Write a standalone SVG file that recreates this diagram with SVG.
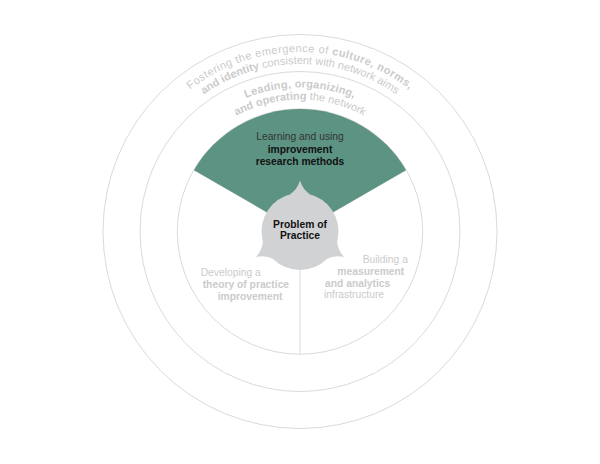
<svg xmlns="http://www.w3.org/2000/svg" width="600" height="464" viewBox="0 0 600 464">
<style>
.ring{fill:none;stroke:#dadada;stroke-width:1}
.t{font-family:"Liberation Sans",Arial,Helvetica,sans-serif;font-size:10.3px}
.rt{font-family:"Liberation Sans",Arial,Helvetica,sans-serif;font-size:11px;fill:#cbcbcb}
.b{font-weight:bold}
.pale{fill:#cbcbcb}
.div{stroke:#dcdcdc;stroke-width:1}
</style>
<defs>
<path id="a1" d="M131.32,170.11 A179.5,179.5 0 0 1 468.68,170.11"/>
<path id="a2" d="M142.60,174.21 A167.5,167.5 0 0 1 457.40,174.21"/>
<path id="a3" d="M164.68,182.25 A144,144 0 0 1 435.32,182.25"/>
<path id="a4" d="M175.96,186.36 A132,132 0 0 1 424.04,186.36"/>
<path id="pt" d="M289.6,194.6 Q297,190 300,180.5 Q303,190 310.4,194.6 Z"/>
</defs>
<rect width="600" height="464" fill="#ffffff"/>
<g id="ring-culture">
<circle class="ring" cx="300" cy="231.5" r="197"/>
<text class="rt" letter-spacing="0.45"><textPath href="#a1" startOffset="50%" text-anchor="middle">Fostering the emergence of <tspan class="b">culture, norms,</tspan></textPath></text>
<text class="rt"><textPath href="#a2" startOffset="50%" text-anchor="middle"><tspan class="b">and identity</tspan> consistent with network aims</textPath></text>
</g>
<g id="ring-leading">
<circle class="ring" cx="300" cy="231.5" r="160"/>
<text class="rt" letter-spacing="0.2"><textPath href="#a3" startOffset="50%" text-anchor="middle"><tspan class="b">Leading, organizing,</tspan></textPath></text>
<text class="rt"><textPath href="#a4" startOffset="50%" text-anchor="middle"><tspan class="b">and operating</tspan> the network</textPath></text>
</g>
<g id="ring-inner">
<circle class="ring" cx="300" cy="231.5" r="122.7"/>
</g>
<g id="sector-methods">
<path d="M300,231.5 L193.9,170.25 A122.5,122.5 0 0 1 406.1,170.25 Z" fill="#5d9383"/>
<text class="t" text-anchor="middle" x="300" y="140" fill="#333333">Learning and using</text>
<text class="t b" text-anchor="middle" x="300" y="152.5" fill="#111111">improvement</text>
<text class="t b" text-anchor="middle" x="300" y="164.5" fill="#111111">research methods</text>
</g>
<g id="connectors">
<line class="div" x1="300" y1="265" x2="300" y2="354.2"/>
</g>
<g id="sector-theory">
<text class="t pale" x="200.7" y="276">Developing a</text>
<text class="t b pale" x="202.7" y="287.5">theory of practice</text>
<text class="t b pale" x="217.7" y="299.5">improvement</text>
</g>
<g id="sector-measurement">
<text class="t pale" x="362.7" y="263">Building a</text>
<text class="t b pale" x="337.3" y="275">measurement</text>
<text class="t b pale" x="325" y="286.5">and analytics</text>
<text class="t pale" x="324" y="298">infrastructure</text>
</g>
<g id="problem-of-practice">
<circle cx="300" cy="231.5" r="38.5" fill="#d1d2d4"/>
<use href="#pt" fill="#d1d2d4"/>
<use href="#pt" fill="#d1d2d4" transform="rotate(120 300 231.5)"/>
<use href="#pt" fill="#d1d2d4" transform="rotate(240 300 231.5)"/>
<text class="t b" text-anchor="middle" x="300" y="227.5" fill="#111111" font-size="10.5">Problem of</text>
<text class="t b" text-anchor="middle" x="300" y="239" fill="#111111" font-size="10.5">Practice</text>
</g>
</svg>
